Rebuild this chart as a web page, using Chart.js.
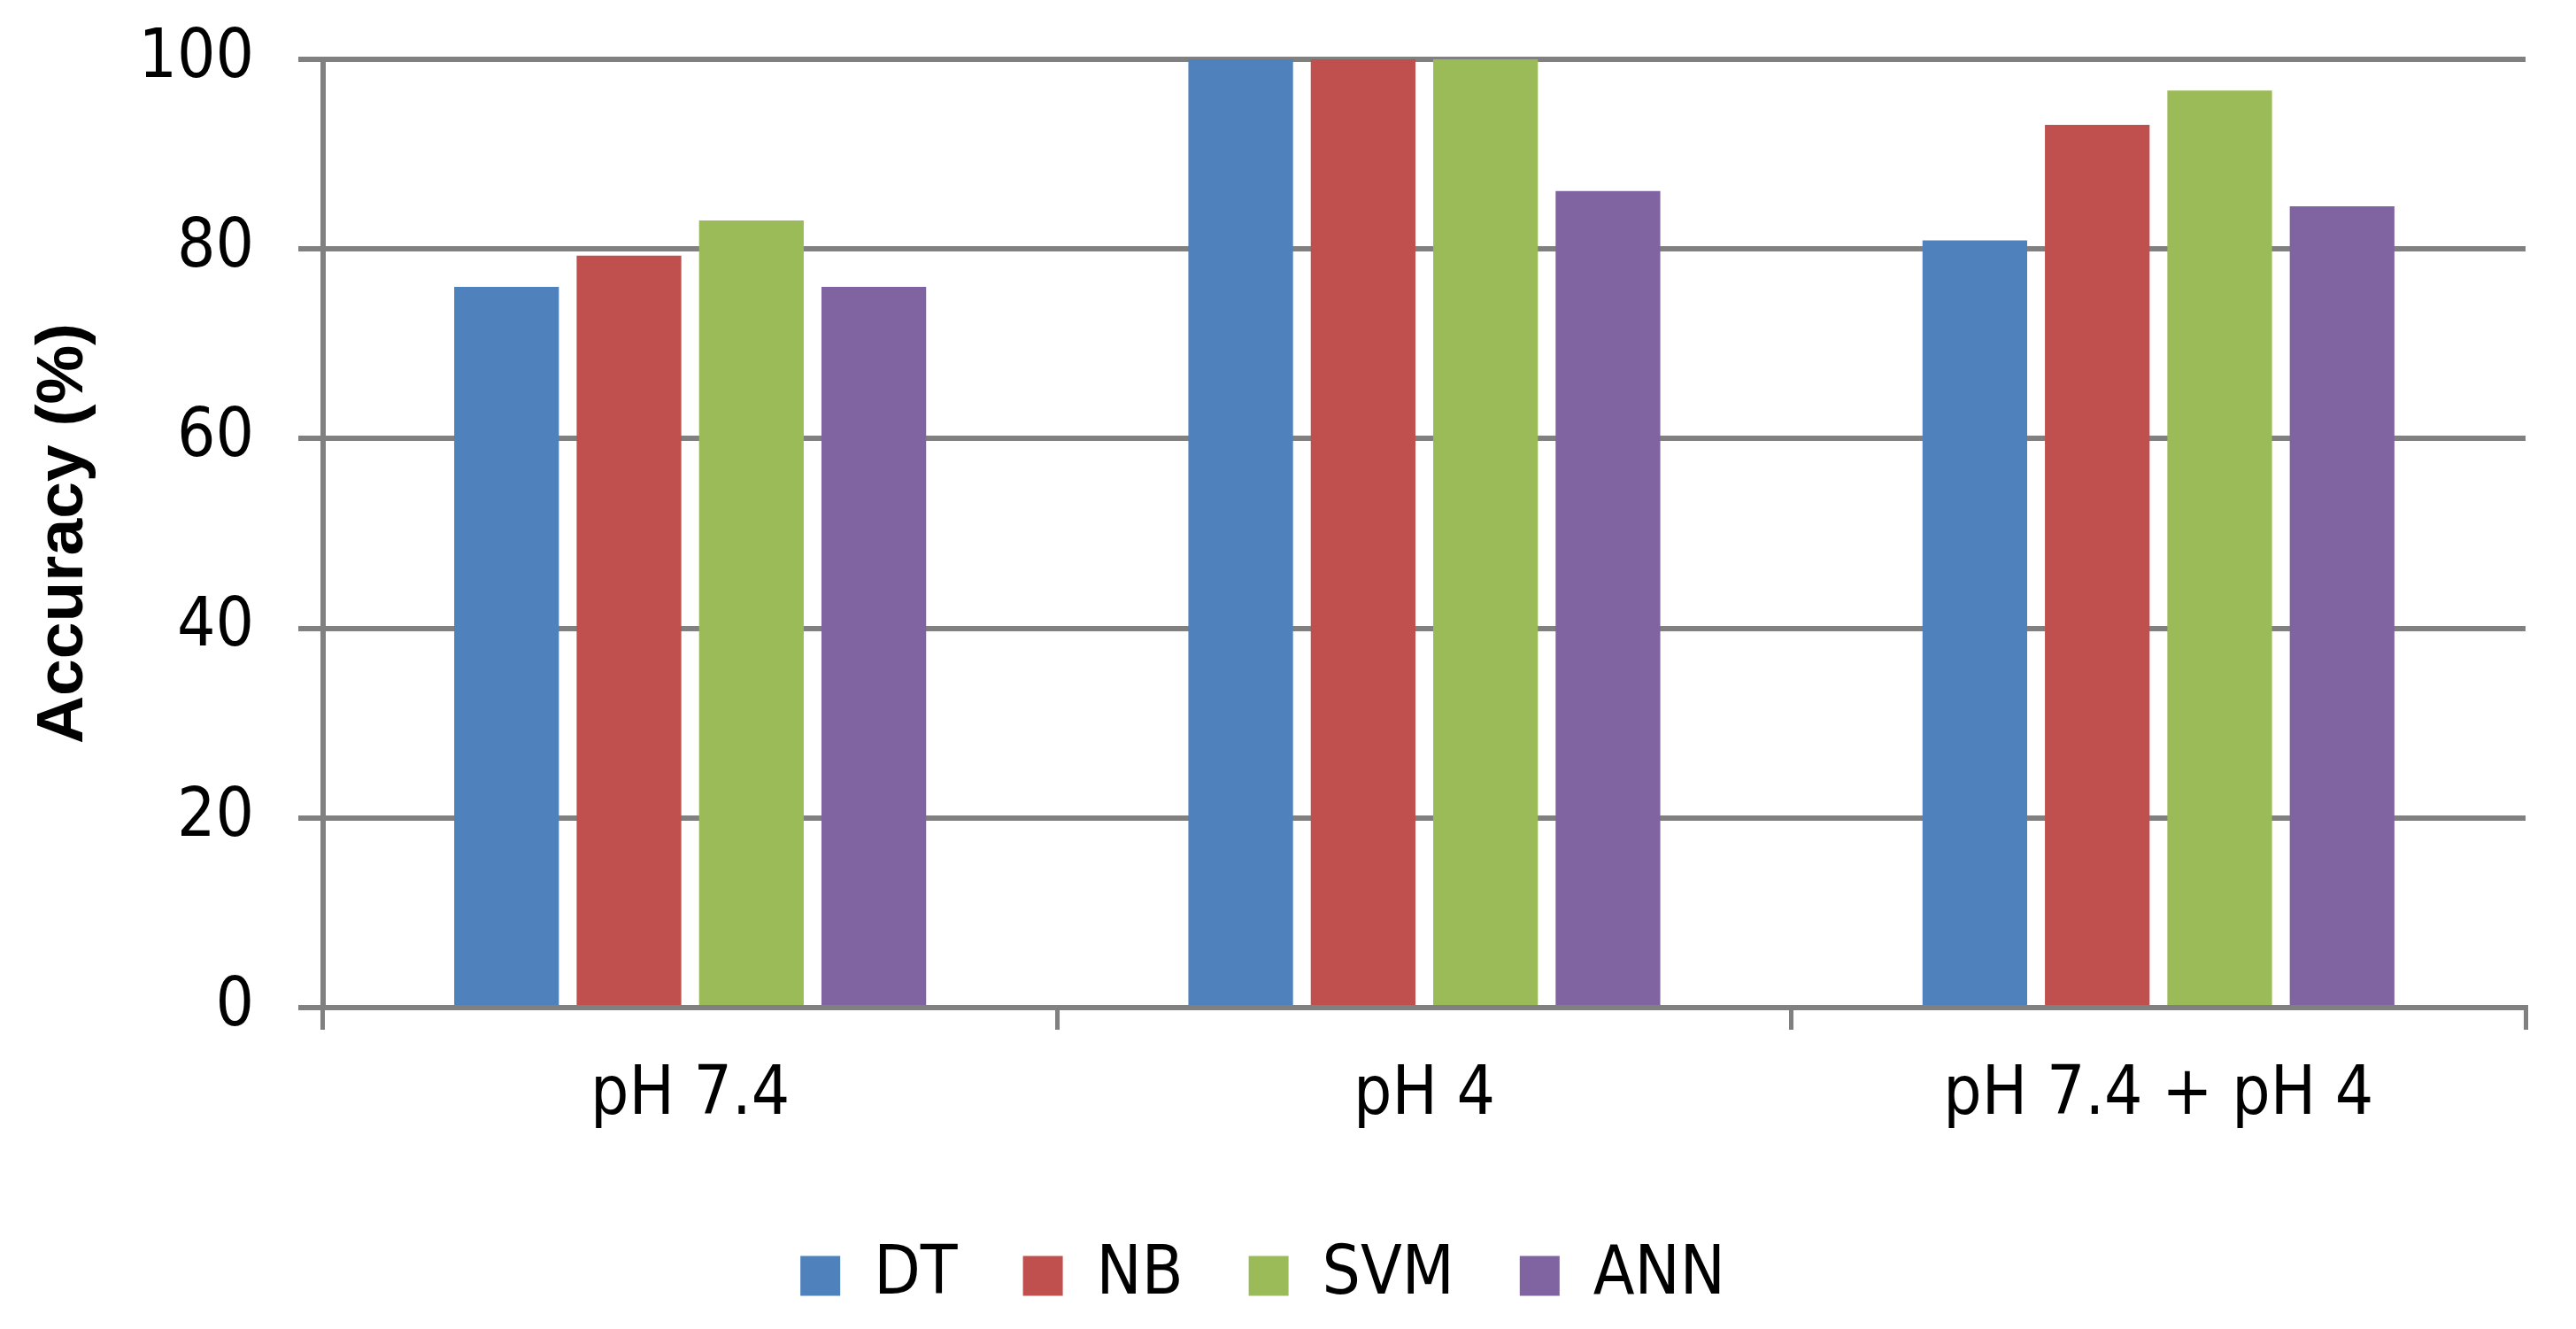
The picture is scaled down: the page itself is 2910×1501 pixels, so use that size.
<!DOCTYPE html>
<html>
<head>
<meta charset="utf-8">
<script src="https://cdn.jsdelivr.net/npm/chart.js@4.4.0/dist/chart.umd.min.js"></script>
<style>
  html, body { margin: 0; padding: 0; background: #fff; }
</style>
</head>
<body>
<canvas id="myChart" width="2910" height="1501"></canvas>
<script>
'use strict';

// data
const categories = ['pH 7.4', 'pH 4', 'pH 7.4 + pH 4'];
const dtValues = [76, 100, 80.9];
const nbValues = [79.3, 100, 93.1];
const svmValues = [83, 100, 96.7];
const annValues = [76, 86.1, 84.5];
const yTicks = [0, 20, 40, 60, 80, 100];

// DOM Reference
const ctx = document.getElementById('myChart').getContext('2d');

const tickFont = { family: "'DejaVu Sans Condensed', 'Liberation Sans Narrow', 'DejaVu Sans', sans-serif", size: 76 };
const gridGrey = '#808080';

const chartObj = {
    type: 'bar',
    data: {
        labels: categories,
        datasets: [
            { label: 'DT', data: dtValues, backgroundColor: '#4F81BD' },
            { label: 'NB', data: nbValues, backgroundColor: '#C0504D' },
            { label: 'SVM', data: svmValues, backgroundColor: '#9BBB59' },
            { label: 'ANN', data: annValues, backgroundColor: '#8064A2' }
        ]
    },
    options: {
        responsive: false,
        animation: false,
        devicePixelRatio: 1,
        categoryPercentage: 0.667,
        barPercentage: 0.855,
        layout: {
            padding: { left: 0, right: 57, top: 67, bottom: 12 }
        },
        plugins: {
            tooltip: { enabled: false },
            legend: {
                position: 'bottom',
                labels: {
                    color: '#000',
                    font: tickFont,
                    boxWidth: 45,
                    boxHeight: 45,
                    padding: 74
                }
            }
        },
        scales: {
            x: {
                grid: {
                    offset: true,
                    drawOnChartArea: false,
                    drawTicks: true,
                    tickLength: 25,
                    color: gridGrey,
                    lineWidth: 5
                },
                border: { color: gridGrey, width: 6 },
                ticks: { color: '#000', font: tickFont, padding: 30, maxRotation: 0 },
                afterFit: function (scale) { scale.height = 191; }
            },
            y: {
                min: 0,
                max: 100,
                afterBuildTicks: function (scale) {
                    scale.ticks = yTicks.map(v => ({ value: v }));
                },
                grid: {
                    color: gridGrey,
                    lineWidth: 6,
                    tickLength: 28
                },
                border: { color: gridGrey, width: 6 },
                ticks: { color: '#000', font: tickFont, padding: 50 },
                title: {
                    display: true,
                    text: 'Accuracy (%)',
                    color: '#000',
                    font: { family: "'Liberation Sans', Arial, sans-serif", size: 75, weight: 'bold' },
                    padding: { top: 27, bottom: 0 }
                },
                afterFit: function (scale) {
                    scale.width = 365;
                    // let layout.padding.top decide where 100 sits
                    scale.paddingTop = 0;
                    scale.paddingBottom = 0;
                }
            }
        }
    }
};

// constructor - canvas context + config
const myChart = new Chart(ctx, chartObj);
</script>
</body>
</html>
